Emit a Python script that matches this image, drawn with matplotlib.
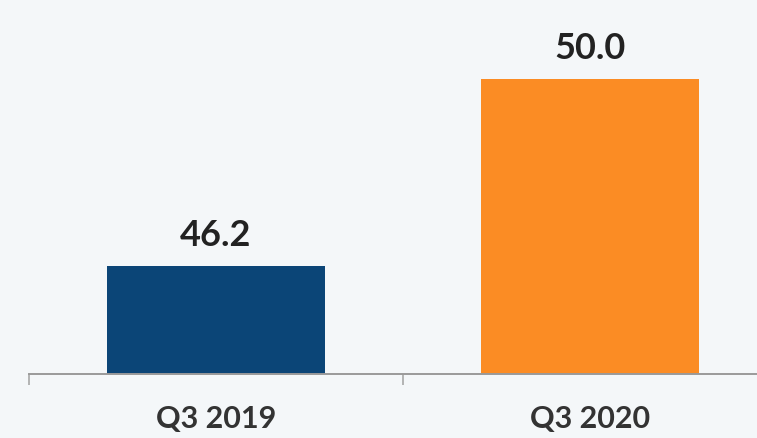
import matplotlib
matplotlib.use("Agg")
import matplotlib.pyplot as plt

categories = ["Q3 2019", "Q3 2020"]
values = [46.2, 50.0]
bar_colors = ["#0b4577", "#fb8c24"]

bg = "#f4f7f9"
fig = plt.figure(figsize=(7.57, 4.38), dpi=100, facecolor=bg)
ax = fig.add_axes([29 / 757, 64 / 438, 1 - 29 / 757, 374 / 438])
ax.set_facecolor(bg)

x = list(range(len(categories)))
bars = ax.bar(x, values, width=0.583, color=bar_colors, zorder=2)

for spine in ("top", "right", "left"):
    ax.spines[spine].set_visible(False)
ax.spines["bottom"].set_color("#9a9a9a")
ax.spines["bottom"].set_linewidth(1.4)
ax.set_yticks([])

# boundary ticks between categories
ax.set_xticks([-0.5, 0.5, 1.5])
ax.set_xticklabels([])
ax.tick_params(axis="x", which="major", length=8, width=1.2, color="#a8a8a8")

# category labels centred under bars
ax.set_xticks(x, minor=True)
ax.set_xticklabels(categories, minor=True, fontfamily="Lato", fontsize=22,
                   fontweight="bold", color="#333333")
ax.tick_params(axis="x", which="minor", length=0, pad=22)

ax.set_xlim(-0.5, 1.447)
ax.set_ylim(44.0, 51.6)

for rect, v in zip(bars, values):
    ax.annotate(f"{v:.1f}", xy=(rect.get_x() + rect.get_width() / 2, v),
                xytext=(0, 10), textcoords="offset points",
                ha="center", va="bottom", fontfamily="Lato", fontsize=26,
                fontweight="bold", color="#222222")

fig.savefig("out.png", dpi=100, facecolor=bg)
